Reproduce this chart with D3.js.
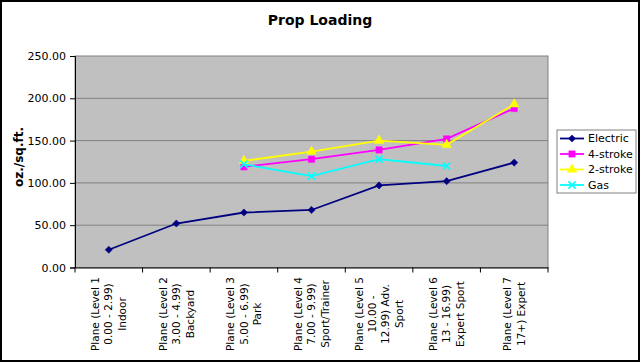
<!DOCTYPE html>
<html><head><meta charset="utf-8">
<script src="https://cdn.jsdelivr.net/npm/d3@7"></script>
<style>html,body{margin:0;padding:0;background:#fff;}svg{display:block;font-family:"DejaVu Sans",Verdana,sans-serif;}</style>
</head><body>
<svg id="chart" width="640" height="362"></svg>
<script>
const categories = [
  ["Plane (Level 1", "0.00 - 2.99)", "Indoor"],
  ["Plane (Level 2", "3.00 - 4.99)", "Backyard"],
  ["Plane (Level 3", "5.00 - 6.99)", "Park"],
  ["Plane (Level 4", "7.00 - 9.99)", "Sport/Trainer"],
  ["Plane (Level 5", "10.00 -", "12.99) Adv.", "Sport"],
  ["Plane (Level 6", "13 - 16.99)", "Expert Sport"],
  ["Plane (Level 7", "17+) Expert"]
];
const electric = [21, 52, 65, 68, 97, 102, 124];
const fourStroke = [null, null, 119, 128, 139, 152, 188];
const twoStroke = [null, null, 126, 137, 150, 145, 193];
const gas = [null, null, 122, 108, 128, 120, null];
const yTicks = [0, 50, 100, 150, 200, 250];
const seriesNames = ["Electric", "4-stroke", "2-stroke", "Gas"];

const series = [
  {name: seriesNames[0], values: electric, color: "#000080", marker: d3.symbolSquare, size: 26, rot: 45},
  {name: seriesNames[1], values: fourStroke, color: "#FF00FF", marker: d3.symbolSquare, size: 40, rot: 0},
  {name: seriesNames[2], values: twoStroke, color: "#FFFF00", marker: d3.symbolTriangle, size: 40, rot: 0},
  {name: seriesNames[3], values: gas, color: "#00FFFF", marker: d3.symbolX, size: 36, rot: 0}
];

const svg = d3.select("#chart");
const W = 640, H = 362;
const plot = {left: 75, right: 548, top: 56, bottom: 267.5};

// outer border
svg.append("rect").attr("x", 1).attr("y", 1).attr("width", W - 2).attr("height", H - 2)
  .attr("fill", "#fff").attr("stroke", "#000").attr("stroke-width", 2);

// title
svg.append("text").attr("x", 320).attr("y", 25).attr("text-anchor", "middle")
  .attr("font-size", 14).attr("font-weight", "bold").attr("fill", "#000").text("Prop Loading");

const idx = d3.range(categories.length);
const x = d3.scaleBand().domain(idx).range([plot.left, plot.right]).padding(0);
const y = d3.scaleLinear().domain([0, 250]).range([plot.bottom, plot.top]);

// plot area
svg.append("rect").attr("x", plot.left).attr("y", plot.top)
  .attr("width", plot.right - plot.left).attr("height", plot.bottom - plot.top)
  .attr("fill", "#C0C0C0").attr("stroke", "#808080").attr("stroke-width", 1);

// gridlines
svg.append("g").selectAll("line").data(yTicks.filter(d => d > 0 && d < 250)).join("line")
  .attr("x1", plot.left).attr("x2", plot.right)
  .attr("y1", d => y(d)).attr("y2", d => y(d))
  .attr("stroke", "#808080").attr("stroke-width", 1);

// y axis
const yAxis = svg.append("g").attr("transform", `translate(${plot.left},0)`)
  .call(d3.axisLeft(y).tickValues(yTicks).tickFormat(d3.format(".2f")).tickSize(5).tickPadding(4));
yAxis.select(".domain").attr("stroke", "#000");
yAxis.selectAll(".tick line").attr("stroke", "#000");
yAxis.selectAll("text").attr("font-size", 11).attr("fill", "#000")
  .attr("font-family", "DejaVu Sans, Verdana, sans-serif");

// y title
svg.append("text").attr("transform", `translate(23,157) rotate(-90)`)
  .attr("text-anchor", "middle").attr("font-size", 12).attr("font-weight", "bold").text("oz./sq.ft.");

// x axis
const xAxis = svg.append("g").attr("transform", `translate(0,${plot.bottom})`)
  .call(d3.axisBottom(x).tickSize(0).tickFormat(""));
xAxis.select(".domain").attr("stroke", "#000");
const bounds = idx.map(i => x(i)).concat([x(idx[idx.length - 1]) + x.bandwidth()]);
svg.append("g").selectAll("line").data(bounds).join("line")
  .attr("x1", d => d).attr("x2", d => d)
  .attr("y1", plot.bottom).attr("y2", plot.bottom + 5)
  .attr("stroke", "#000");

// x labels
const lh = 13.5;
const labG = svg.append("g");
categories.forEach((lines, i) => {
  const cx = x(i) + x.bandwidth() / 2;
  const g = labG.append("g").attr("transform", `translate(${cx},314) rotate(-90)`);
  const n = lines.length;
  lines.forEach((t, j) => {
    g.append("text").attr("x", 0).attr("y", (j - (n - 1) / 2) * lh)
      .attr("dy", "0.35em").attr("text-anchor", "middle")
      .attr("font-size", 10.5).attr("fill", "#000").text(t);
  });
});

function drawMarker(sel, s) {
  sel.attr("d", d3.symbol().type(s.marker).size(s.size))
    .attr("fill", s.marker === d3.symbolX ? "none" : s.color)
    .attr("stroke", s.color).attr("stroke-width", s.marker === d3.symbolX ? 1.6 : 0.5);
}

// series
const line = d3.line().defined(d => d.v != null).x(d => x(d.i) + x.bandwidth() / 2).y(d => y(d.v));
series.forEach(s => {
  const pts = s.values.map((v, i) => ({i, v}));
  svg.append("path").datum(pts).attr("d", line).attr("fill", "none")
    .attr("stroke", s.color).attr("stroke-width", 1.8);
  svg.append("g").selectAll("path").data(pts.filter(d => d.v != null)).join("path")
    .attr("transform", d => `translate(${x(d.i) + x.bandwidth() / 2},${y(d.v)}) rotate(${s.rot})`)
    .call(drawMarker, s);
});

// legend
const leg = svg.append("g");
leg.append("rect").attr("x", 557).attr("y", 130).attr("width", 79).attr("height", 63)
  .attr("fill", "#fff").attr("stroke", "#808080").attr("stroke-width", 1);
series.forEach((s, k) => {
  const ly = 138.5 + k * 15.5;
  leg.append("line").attr("x1", 560).attr("x2", 584).attr("y1", ly).attr("y2", ly)
    .attr("stroke", s.color).attr("stroke-width", 1.8);
  leg.append("path").attr("transform", `translate(572,${ly}) rotate(${s.rot})`)
    .call(drawMarker, s);
  leg.append("text").attr("x", 588).attr("y", ly).attr("dy", "0.35em")
    .attr("font-size", 11).attr("fill", "#000").text(s.name);
});
</script>
</body></html>
